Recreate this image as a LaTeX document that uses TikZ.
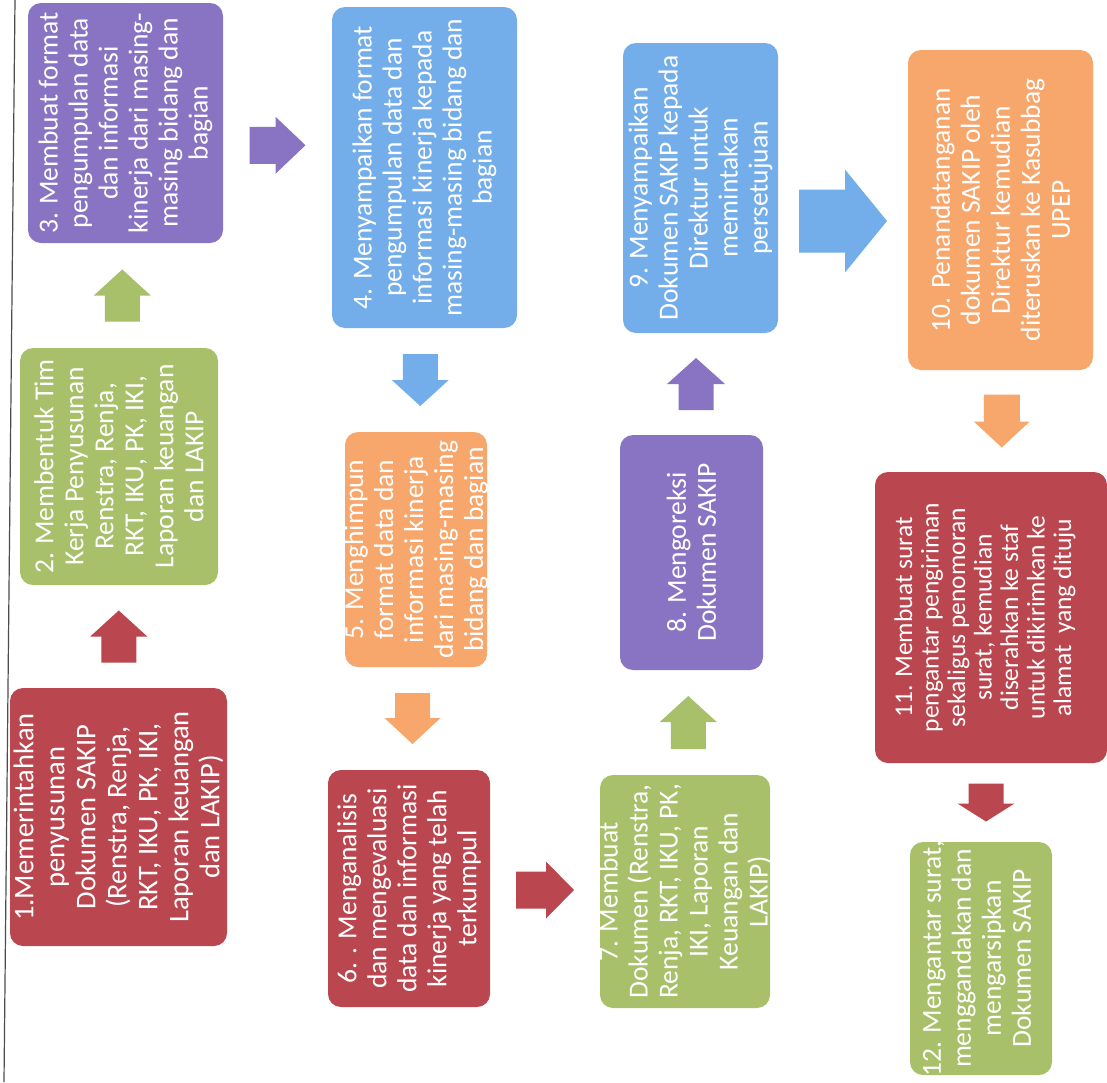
\documentclass[tikz,border=0pt]{standalone}
\usepackage{fontspec}
\setmainfont{Carlito}
\usetikzlibrary{calc}
\definecolor{redc}{HTML}{BA464F}
\definecolor{greenc}{HTML}{A8C06A}
\definecolor{purplec}{HTML}{8874C2}
\definecolor{bluec}{HTML}{74AEEA}
\definecolor{orangec}{HTML}{F7A66C}
\begin{document}
\begin{tikzpicture}[x=1pt,y=1pt,
  box/.style={rounded corners=13pt, inner sep=0pt, outer sep=0pt},
  txt/.style={rotate=90, text=white, align=center, inner sep=0pt,
              font=\fontsize{27.5}{30}\selectfont},
  bigtxt/.style={txt, font=\fontsize{28.5}{31}\selectfont},
  smalltxt/.style={txt, font=\fontsize{25.5}{26.5}\selectfont},
  pics/blockarrow/.style n args={5}{code={
    \fill[#1] (-#2/2,-#3/2) -- (#2/2-#5,-#3/2) -- (#2/2-#5,-#4/2) -- (#2/2,0)
      -- (#2/2-#5,#4/2) -- (#2/2-#5,#3/2) -- (-#2/2,#3/2) -- cycle;}}]
\useasboundingbox[fill=white] (0,0) rectangle (1107,-1082);
% page edge of the scan
\draw[line width=1.2pt, black!70] (15,0) -- (4,-1082);

% boxes
\node[box, fill=redc,    minimum width=217pt, minimum height=258pt] (b1)  at (118.5,-817) {};
\node[box, fill=greenc,  minimum width=198pt, minimum height=237pt] (b2)  at (119,-466.5) {};
\node[box, fill=purplec, minimum width=195pt, minimum height=240pt] (b3)  at (125.5,-123) {};
\node[box, fill=bluec,   minimum width=185pt, minimum height=321pt] (b4)  at (424.5,-167.5) {};
\node[box, fill=orangec, minimum width=142pt, minimum height=235pt] (b5)  at (416,-549.5) {};
\node[box, fill=redc,    minimum width=162pt, minimum height=237pt] (b6)  at (409,-888.5) {};
\node[box, fill=greenc,  minimum width=170pt, minimum height=233pt] (b7)  at (685,-891.5) {};
\node[box, fill=purplec, minimum width=143pt, minimum height=235pt] (b8)  at (691.5,-552.5) {};
\node[box, fill=bluec,   minimum width=155pt, minimum height=290pt] (b9)  at (700.5,-188) {};
\node[box, fill=orangec, minimum width=185pt, minimum height=320pt] (b10) at (1000.5,-210) {};
\node[box, fill=redc,    minimum width=232pt, minimum height=291pt] (b11) at (991,-617.5) {};
\node[box, fill=greenc,  minimum width=142pt, minimum height=233pt] (b12) at (981,-958.5) {};

% texts
\node[bigtxt] (t1) at (b1) {1.Memerintahkan\\penyusunan\\Dokumen SAKIP\\(Renstra, Renja,\\RKT, IKU, PK, IKI,\\Laporan keuangan\\dan LAKIP)};
\node[txt] (t2) at (b2) {2. Membentuk Tim\\Kerja Penyusunan\\Renstra, Renja,\\RKT, IKU, PK, IKI,\\Laporan keuangan\\dan LAKIP};
\node[txt] (t3) at (b3) {3. Membuat format\\pengumpulan data\\dan informasi\\kinerja dari masing-\\masing bidang dan\\bagian};
\node[txt] (t4) at (b4) {4. Menyampaikan format\\pengumpulan data dan\\informasi kinerja kepada\\masing-masing bidang dan\\bagian};
\node[txt] (t5) at (b5) {5. Menghimpun\\format data dan\\informasi kinerja\\dari masing-masing\\bidang dan bagian};
\node[txt] (t6) at (b6) {6. . Menganalisis\\dan mengevaluasi\\data dan informasi\\kinerja yang telah\\terkumpul};
\node[txt] (t7) at (b7) {7. Membuat\\Dokumen (Renstra,\\Renja, RKT, IKU, PK,\\IKI, Laporan\\Keuangan dan\\LAKIP)};
\node[txt] (t8) at (b8) {8. Mengoreksi\\Dokumen SAKIP};
\node[txt] (t9) at (b9) {9. Menyampaikan\\Dokumen SAKIP kepada\\Direktur untuk\\memintakan\\persetujuan};
\node[txt] (t10) at (b10) {10. Penandatanganan\\dokumen SAKIP oleh\\Direktur kemudian\\diteruskan ke Kasubbag\\UPEP};
\node[smalltxt] (t11) at ($(b11)+(-6,0)$) {11. Membuat surat\\pengantar pengiriman\\sekaligus penomoran\\surat, kemudian\\diserahkan ke staf\\untuk dikirimkan ke\\alamat \ yang dituju};
\node[txt] (t12) at ($(b12)+(-4,0)$) {12. Mengantar surat,\\menggandakan dan\\mengarsipkan\\Dokumen SAKIP};

% block arrows
\pic[rotate=90]  at ($(b1.north)!0.5!(b2.south)$) {blockarrow={redc}{52}{35}{57}{26}};
\pic[rotate=90]  at ($(b2.north)!0.5!(b3.south)$) {blockarrow={greenc}{52}{35}{57}{26}};
\pic             at ($(b3.east)!0.5!(b4.west)$)   {blockarrow={purplec}{56}{37}{57}{30}};
\pic[rotate=-90] at ($(b4.south)!0.5!(b5.north)$) {blockarrow={bluec}{52}{35}{57}{26}};
\pic[rotate=-90] at ($(b5.south)!0.5!(b6.north)$) {blockarrow={orangec}{51}{35}{56}{26}};
\pic             at ($(b6.east)!0.5!(b7.west)$)   {blockarrow={redc}{58}{37}{57}{28}};
\pic[rotate=90]  at ($(b7.north)!0.5!(b8.south)$) {blockarrow={greenc}{53}{35}{57}{26}};
\pic[rotate=90]  at ($(b8.north)!0.5!(b9.south)$) {blockarrow={purplec}{52}{35}{58}{26}};
\pic             at ($(b9.east)!0.5!(b10.west)+(0,-22)$) {blockarrow={bluec}{88}{63}{103}{42}};
\pic[rotate=-90] at ($(b10.south)!0.5!(b11.north)+(6,0)$) {blockarrow={orangec}{53}{36}{56}{26}};
\pic[rotate=-90] at ($(b11.south)!0.5!(b12.north)$) {blockarrow={redc}{38}{35}{57}{18}};
\end{tikzpicture}
\end{document}
